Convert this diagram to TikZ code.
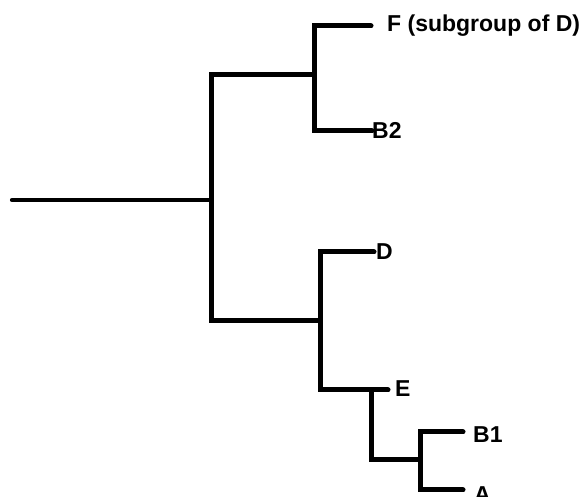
\documentclass[tikz,border=0pt]{standalone}
\usepackage{fontspec}
\setmainfont{Liberation Sans}
\begin{document}
\begin{tikzpicture}[x=1pt,y=-1pt,
  branch/.style={line width=5pt,line cap=round,line join=miter},
  leaf/.style={anchor=base west,inner sep=0pt,font=\fontsize{23}{26}\selectfont\bfseries}]
\useasboundingbox (0,0) rectangle (582,497);
% coordinates
\coordinate (r0) at (12,200);
\coordinate (n1) at (211,200);
\coordinate (j1t) at (211,75);
\coordinate (j1b) at (211,321);
\coordinate (n2) at (314,75);
\coordinate (j2t) at (314,26);
\coordinate (j2b) at (314,131);
\coordinate (Fend) at (371,26);
\coordinate (B2end) at (372,131);
\coordinate (n3) at (320,321);
\coordinate (j3t) at (320,252);
\coordinate (j3b) at (320,390);
\coordinate (Dend) at (374,252);
\coordinate (Eend) at (388,390);
\coordinate (j4t) at (371,390);
\coordinate (j4b) at (371,460);
\coordinate (n5) at (420,460);
\coordinate (j5t) at (420,432);
\coordinate (j5b) at (420,490);
\coordinate (B1end) at (463,432);
\coordinate (Aend) at (463,490);
% labels
\node[leaf] (F) at (387,32) {F (subgroup of D)};
\node[leaf] (B2) at (372,139) {B2};
\node[leaf] (D) at (376,260) {D};
\node[leaf] (E) at (395,397) {E};
\node[leaf] (B1) at (473,443) {B1};
\node[leaf] (A) at (474,503) {A};
% tree
\draw[branch,line width=4.2pt] (r0) -- (n1);
\draw[branch] (n2) -- (j1t) -- (j1b) -- (n3);
\draw[branch] (Fend) -- (j2t) -- (j2b) -- (B2end);
\draw[branch] (Dend) -- (j3t) -- (j3b) -- (Eend);
\draw[branch] (j4t) -- (j4b) -- (n5);
\draw[branch] (B1end) -- (j5t) -- (j5b) -- (Aend);
\end{tikzpicture}
\end{document}
